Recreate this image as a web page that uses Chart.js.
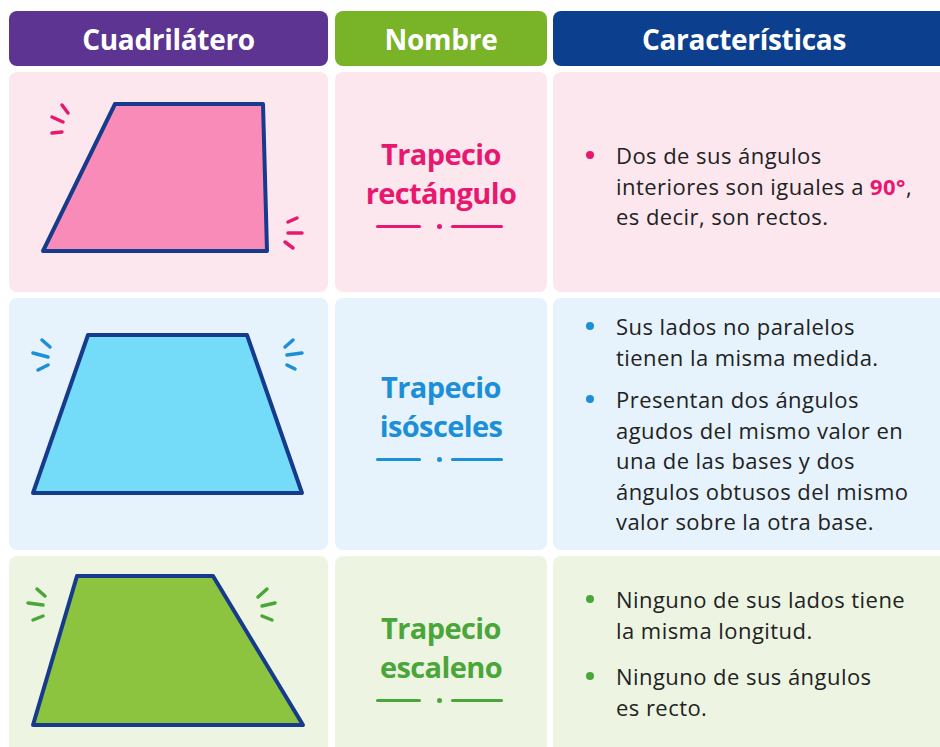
<!DOCTYPE html>
<html lang="es">
<head>
<meta charset="utf-8">
<script src="https://cdn.jsdelivr.net/npm/chart.js@4/dist/chart.umd.min.js"></script>
<style>
    html, body { margin: 0; padding: 0; background: #ffffff; }
    body { width: 940px; height: 747px; position: relative; overflow: hidden; font-family: "Open Sans", Lato, sans-serif; }
    .head, .cell { position: absolute; box-sizing: border-box; border-radius: 8px; }
    .head { top: 11px; height: 55px; color: #fff; font-family: "Open Sans", sans-serif; font-weight: 700; font-size: 28px; letter-spacing: -0.3px; display: flex; align-items: center; justify-content: center; }
    .c1 { left: 9px; width: 319px; }
    .c2 { left: 335px; width: 212px; }
    .c3 { left: 553px; width: 400px; }
    .cell { display: flex; align-items: center; }
    .cell canvas { position: absolute; left: 0; top: 0; }
    .name { flex-direction: column; justify-content: center; text-align: center; }
    .name .t { font-family: "Open Sans", sans-serif; font-weight: 700; font-size: 29px; line-height: 39px; letter-spacing: -0.6px; }
    .deco { position: relative; width: 127px; height: 8px; margin-top: 11px; margin-left: -3px; }
    .deco span { position: absolute; top: 2px; height: 3px; border-radius: 2px; }
    .deco .l { left: 0; width: 45px; }
    .deco .r { right: 0; width: 52px; }
    .deco .d { left: 61px; top: 1px; width: 5px; height: 5px; border-radius: 50%; }
    ul { list-style: none; margin: 0; padding: 0 0 0 63px; font-size: 22px; line-height: 30.5px; color: #222; white-space: nowrap; letter-spacing: 0.45px; }
    li { position: relative; }
    li::before { content: ""; position: absolute; left: -30px; top: 11px; width: 8px; height: 8px; border-radius: 50%; background: var(--accent); }
    .hl { font-weight: 700; }
</style>
</head>
<body>
<div class="head c1" style="background:#5d3491">Cuadrilátero</div>
<div class="head c2" style="background:#78b328">Nombre</div>
<div class="head c3" style="background:#0d3f8f; padding-right:18px">Características</div>
<div id="table"></div>
<script>
// Filas de la tabla
const rowNames = [['Trapecio', 'rectángulo'], ['Trapecio', 'isósceles'], ['Trapecio', 'escaleno']];
// Cada viñeta es una lista de renglones, tal como aparecen en la imagen
const rowTexts = [
    [['Dos de sus ángulos', 'interiores son iguales a <span class="hl" style="color:#e8186f">90°</span>,', 'es decir, son rectos.']],
    [['Sus lados no paralelos', 'tienen la misma medida.'],
     ['Presentan dos ángulos', 'agudos del mismo valor en', 'una de las bases y dos', 'ángulos obtusos del mismo', 'valor sobre la otra base.']],
    [['Ninguno de sus lados tiene', 'la misma longitud.'],
     ['Ninguno de sus ángulos', 'es recto.']]
];
const accentColors = ['#e8186f', '#1c8fd8', '#4ba63a'];
const fillColors = ['#f98bb9', '#74dcf8', '#8dc43f'];
const cellColors = ['#fde7ef', '#e6f3fc', '#edf5e2'];
const rowTops = [72, 298, 556];
const rowHeights = [220, 252, 198];
// ajustes finos de maquetación por fila (px)
const textShift = [4, 0, -2];
const bulletGap = [12, 12, 16];
const nameShift = [0, -9, 1];

// Vértices de cada trapecio (x, y en el marco de la celda de 319 px)
const shapeX = [[106, 254, 258, 34], [79, 238, 293, 24], [68, 204, 294, 24]];
const shapeY = [[32, 32, 179, 179], [37, 37, 195, 195], [20, 20, 169, 169]];
// Trazos de "brillo" junto a los vértices: [x1, y1, x2, y2]
const sparkMarks = [
    [[53, 33, 59, 41], [43, 45, 54, 50], [43, 61, 53, 60], [279, 150, 288, 146], [279, 161, 293, 161], [276, 170, 284, 176]],
    [[33, 42, 41, 49], [24, 55, 39, 59], [29, 72, 39, 67], [276, 49, 284, 42], [278, 57, 293, 55], [278, 67, 286, 71]],
    [[28, 33, 36, 40], [19, 47, 34, 49], [24, 64, 34, 60], [249, 41, 258, 33], [253, 50, 266, 47], [253, 60, 263, 64]]
];

const table = document.getElementById('table');

function makeCell(cls, top, height, bg) {
    const div = document.createElement('div');
    div.className = 'cell ' + cls;
    div.style.top = top + 'px';
    div.style.height = height + 'px';
    div.style.background = bg;
    table.appendChild(div);
    return div;
}

function drawShape(cell, i) {
    const w = 319, h = rowHeights[i];
    const canvas = document.createElement('canvas');
    canvas.width = w;
    canvas.height = h;
    canvas.style.width = w + 'px';
    canvas.style.height = h + 'px';
    cell.appendChild(canvas);

    const verts = shapeX[i].map((x, k) => ({ x: x, y: shapeY[i][k] }));
    verts.push(verts[0]);

    const datasets = [{
        data: verts,
        borderColor: '#163b8c',
        borderWidth: 4,
        backgroundColor: fillColors[i],
        fill: 'shape',
        pointRadius: 0,
        tension: 0,
        borderJoinStyle: 'round',
        borderCapStyle: 'round',
        clip: false
    }];
    sparkMarks[i].forEach(m => {
        datasets.push({
            data: [{ x: m[0], y: m[1] }, { x: m[2], y: m[3] }],
            borderColor: accentColors[i],
            borderWidth: 3.5,
            borderCapStyle: 'round',
            pointRadius: 0,
            fill: false,
            clip: false
        });
    });

    new Chart(canvas, {
        type: 'line',
        data: { datasets: datasets },
        options: {
            responsive: false,
            animation: false,
            events: [],
            layout: { padding: 0 },
            plugins: { legend: { display: false }, tooltip: { enabled: false } },
            scales: {
                x: { type: 'linear', min: 0, max: w, display: false },
                y: { type: 'linear', min: 0, max: h, reverse: true, display: false }
            }
        }
    });
}

rowNames.forEach((name, i) => {
    const top = rowTops[i], height = rowHeights[i];

    const shapeCell = makeCell('c1', top, height, cellColors[i]);
    drawShape(shapeCell, i);

    const nameCell = makeCell('c2 name', top, height, cellColors[i]);
    nameCell.style.color = accentColors[i];
    nameCell.innerHTML = `<div style="transform:translateY(${nameShift[i]}px);display:flex;flex-direction:column;align-items:center">` +
        name.map(t => `<div class="t">${t}</div>`).join('') +
        `<div class="deco"><span class="l" style="background:${accentColors[i]}"></span>` +
        `<span class="d" style="background:${accentColors[i]}"></span>` +
        `<span class="r" style="background:${accentColors[i]}"></span></div></div>`;

    const textCell = makeCell('c3', top, height, cellColors[i]);
    textCell.style.setProperty('--accent', accentColors[i]);
    textCell.innerHTML = `<ul style="transform:translateY(${textShift[i]}px)">` +
        rowTexts[i].map((lines, k) => `<li style="margin-top:${k ? bulletGap[i] : 0}px">${lines.join('<br>')}</li>`).join('') + '</ul>';
});
</script>
</body>
</html>
